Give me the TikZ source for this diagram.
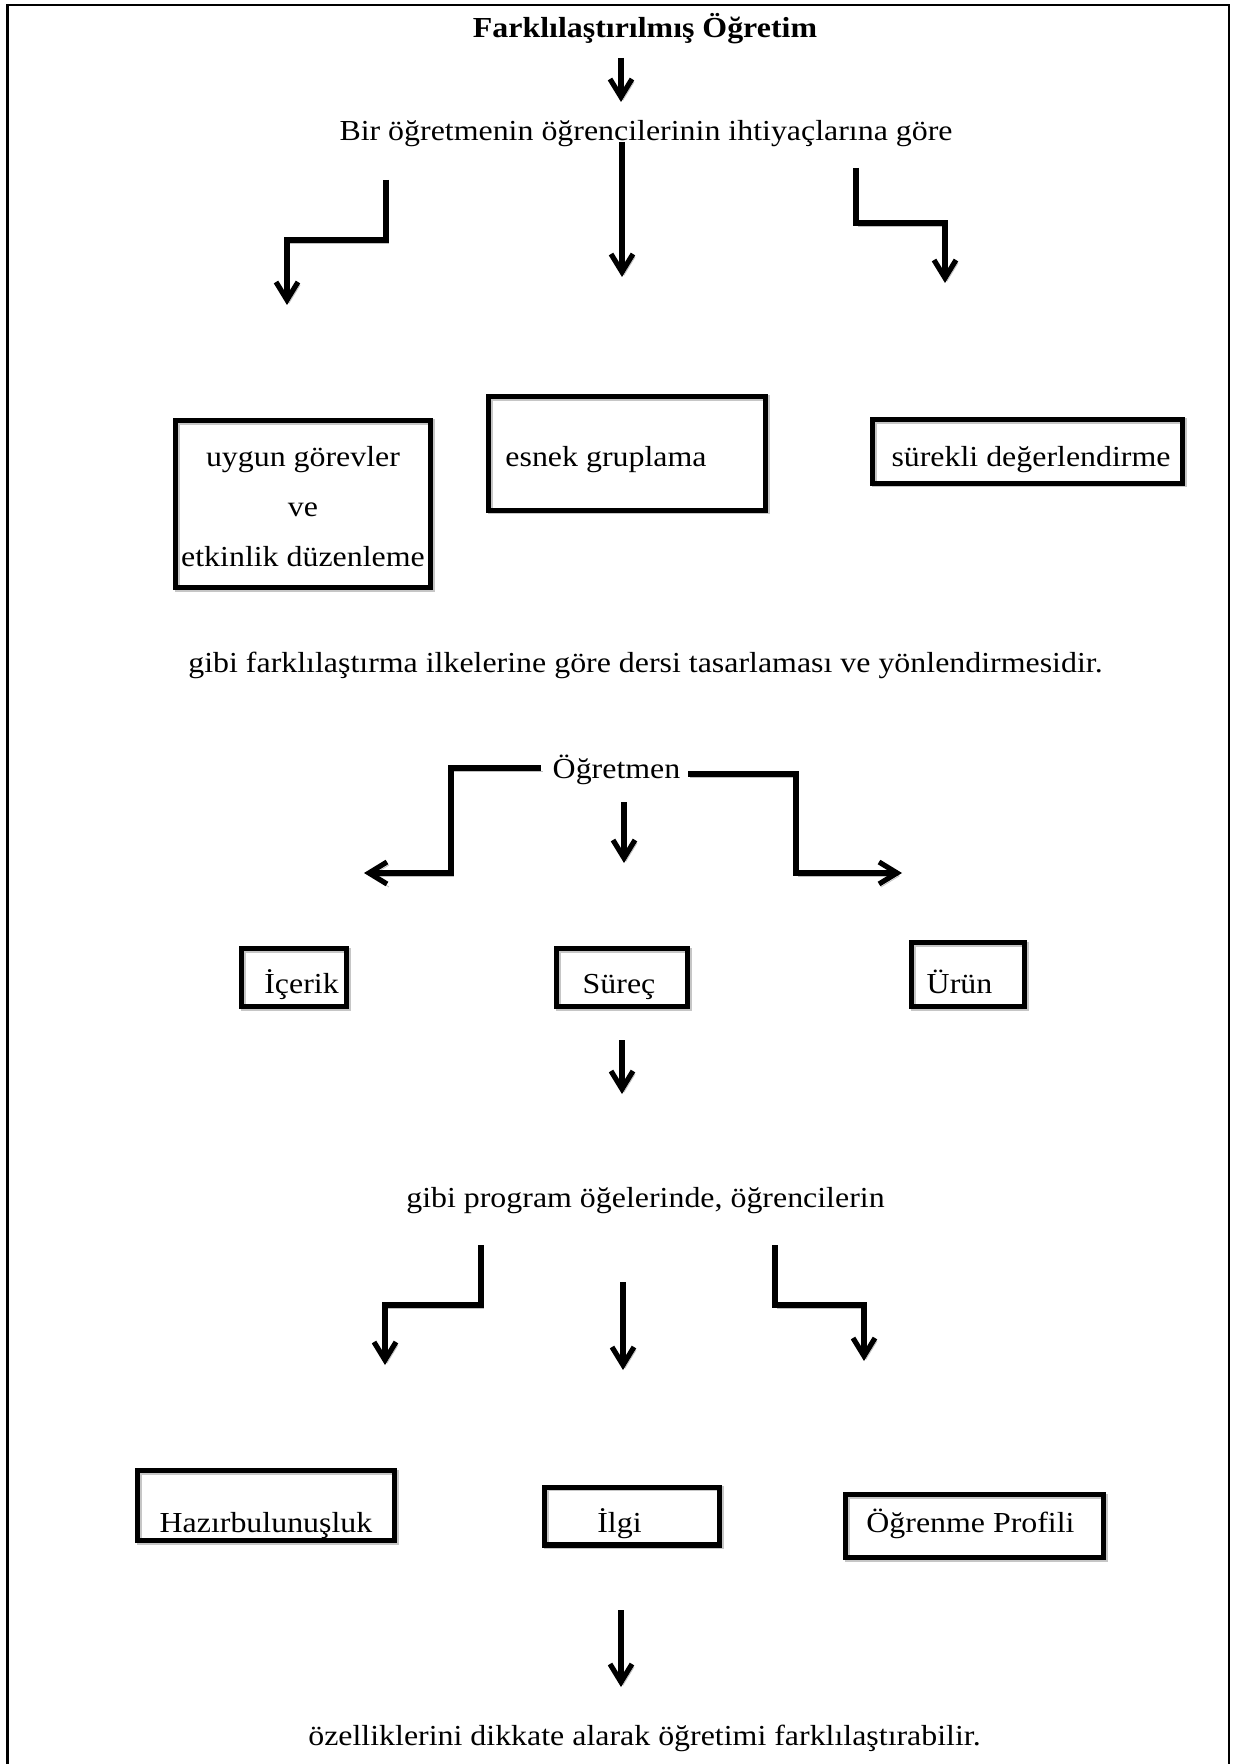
\documentclass[tikz,border=0pt]{standalone}
\usepackage{fontspec}
\setmainfont{Liberation Serif}[FakeStretch=1.1]
\usetikzlibrary{arrows.meta}
\tikzset{
  txt/.style={font=\fontsize{14.5}{17}\selectfont, inner sep=0pt, anchor=base},
  conn/.style={line width=2.6pt, -{Straight Barb[length=9pt,width=11pt]},
    preaction={draw=gray!50, transform canvas={shift={(2,3)}}}},
  box/.style={draw, line width=2.6pt, inner sep=0pt, font=\fontsize{14.5}{17}\selectfont,
    preaction={draw=gray!45, transform canvas={shift={(1.5,1.5)}}}},
}
\begin{document}
\begin{tikzpicture}[x=0.5pt,y=-0.5pt]
\useasboundingbox (0,0) rectangle (1234,1764);
% frame
\draw[line width=1.2pt] (7.5,1764) -- (7.5,5) -- (1229,5) -- (1229,1764);

% texts
\node[txt, font=\bfseries\fontsize{14.5}{17}\selectfont] (title) at (645,38) {Farklılaştırılmış Öğretim};
\node[txt] (s1) at (646,141) {Bir öğretmenin öğrencilerinin ihtiyaçlarına göre};
\node[txt] (s2) at (645.5,672) {gibi farklılaştırma ilkelerine göre dersi tasarlaması ve yönlendirmesidir.};
\node[txt] (og) at (616.5,778) {Öğretmen};
\node[txt] (s3) at (645.5,1207) {gibi program öğelerinde, öğrencilerin};
\node[txt] (s4) at (644.5,1745) {özelliklerini dikkate alarak öğretimi farklılaştırabilir.};

% boxes row 1
\node[box, minimum width=127.4pt, minimum height=83.4pt, align=center,
  font=\fontsize{14.5}{25}\selectfont] (b1) at (303,504)
  {\rule{0pt}{13pt}uygun görevler\\ve\\etkinlik düzenleme};
\node[box, minimum width=138.4pt, minimum height=56.9pt, text height=17.5pt, text depth=4pt] (b2) at (627,453.5)
  {esnek gruplama\hspace*{21pt}};
\node[box, minimum width=154.9pt, minimum height=31.9pt, text height=19.5pt, text depth=4pt] (b3) at (1027.5,451.5)
  {\hspace*{3.5pt}sürekli değerlendirme};

% boxes row 2
\node[box, minimum width=52.4pt, minimum height=28.9pt, text height=19.5pt, text depth=4pt] (c1) at (294,977.5)
  {\hspace*{7.5pt}İçerik};
\node[box, minimum width=65.4pt, minimum height=28.9pt, text height=19.5pt, text depth=4pt] (c2) at (622,977.5)
  {Süreç\hspace*{3pt}};
\node[box, minimum width=56.4pt, minimum height=31.9pt, text height=22.5pt, text depth=4pt] (c3) at (968,974.5)
  {Ürün\hspace*{8.5pt}};

% boxes row 3
\node[box, minimum width=128.4pt, minimum height=34.9pt, text height=30.5pt, text depth=4pt] (d1) at (266,1505.5)
  {Hazırbulunuşluk};
\node[box, minimum width=87.4pt, minimum height=28.9pt, text height=20pt, text depth=4pt] (d2) at (632,1516)
  {İlgi\hspace*{12.5pt}};
\node[box, minimum width=128.9pt, minimum height=31.4pt, text height=10pt, text depth=4pt] (d3) at (974.5,1526)
  {Öğrenme Profili\hspace*{4pt}};

% connector end points
\coordinate (a1s) at (621,58);   \coordinate (a1e) at (621,102);
\coordinate (m1s) at (622,142);  \coordinate (m1e) at (622,277);
\coordinate (z1s) at (386,180);  \coordinate (z1e) at (287,305);  \coordinate (z1h) at (0,240);
\coordinate (z2s) at (856,168);  \coordinate (z2e) at (945,283);  \coordinate (z2h) at (0,223);
\coordinate (o1s) at (541,768);  \coordinate (o1e) at (364,873);  \coordinate (o1v) at (451,0);
\coordinate (o2s) at (688,774);  \coordinate (o2e) at (902,873);  \coordinate (o2v) at (796,0);
\coordinate (o3s) at (624,802);  \coordinate (o3e) at (624,863);
\coordinate (p1s) at (622,1040); \coordinate (p1e) at (622,1094);
\coordinate (z3s) at (481,1245); \coordinate (z3e) at (385,1365); \coordinate (z3h) at (0,1305);
\coordinate (m3s) at (623,1282); \coordinate (m3e) at (623,1370);
\coordinate (z4s) at (775,1245); \coordinate (z4e) at (864,1361); \coordinate (z4h) at (0,1305);
\coordinate (f1s) at (621,1610); \coordinate (f1e) at (621,1687);

% connectors
\draw[conn] (a1s) -- (a1e);
\draw[conn] (m1s) -- (m1e);
\draw[conn] (z1s) -- (z1s |- z1h) -- (z1e |- z1h) -- (z1e);
\draw[conn] (z2s) -- (z2s |- z2h) -- (z2e |- z2h) -- (z2e);
\draw[conn] (o1s) -- (o1v |- o1s) -- (o1v |- o1e) -- (o1e);
\draw[conn] (o2s) -- (o2v |- o2s) -- (o2v |- o2e) -- (o2e);
\draw[conn] (o3s) -- (o3e);
\draw[conn] (p1s) -- (p1e);
\draw[conn] (z3s) -- (z3s |- z3h) -- (z3e |- z3h) -- (z3e);
\draw[conn] (m3s) -- (m3e);
\draw[conn] (z4s) -- (z4s |- z4h) -- (z4e |- z4h) -- (z4e);
\draw[conn] (f1s) -- (f1e);
\end{tikzpicture}
\end{document}
